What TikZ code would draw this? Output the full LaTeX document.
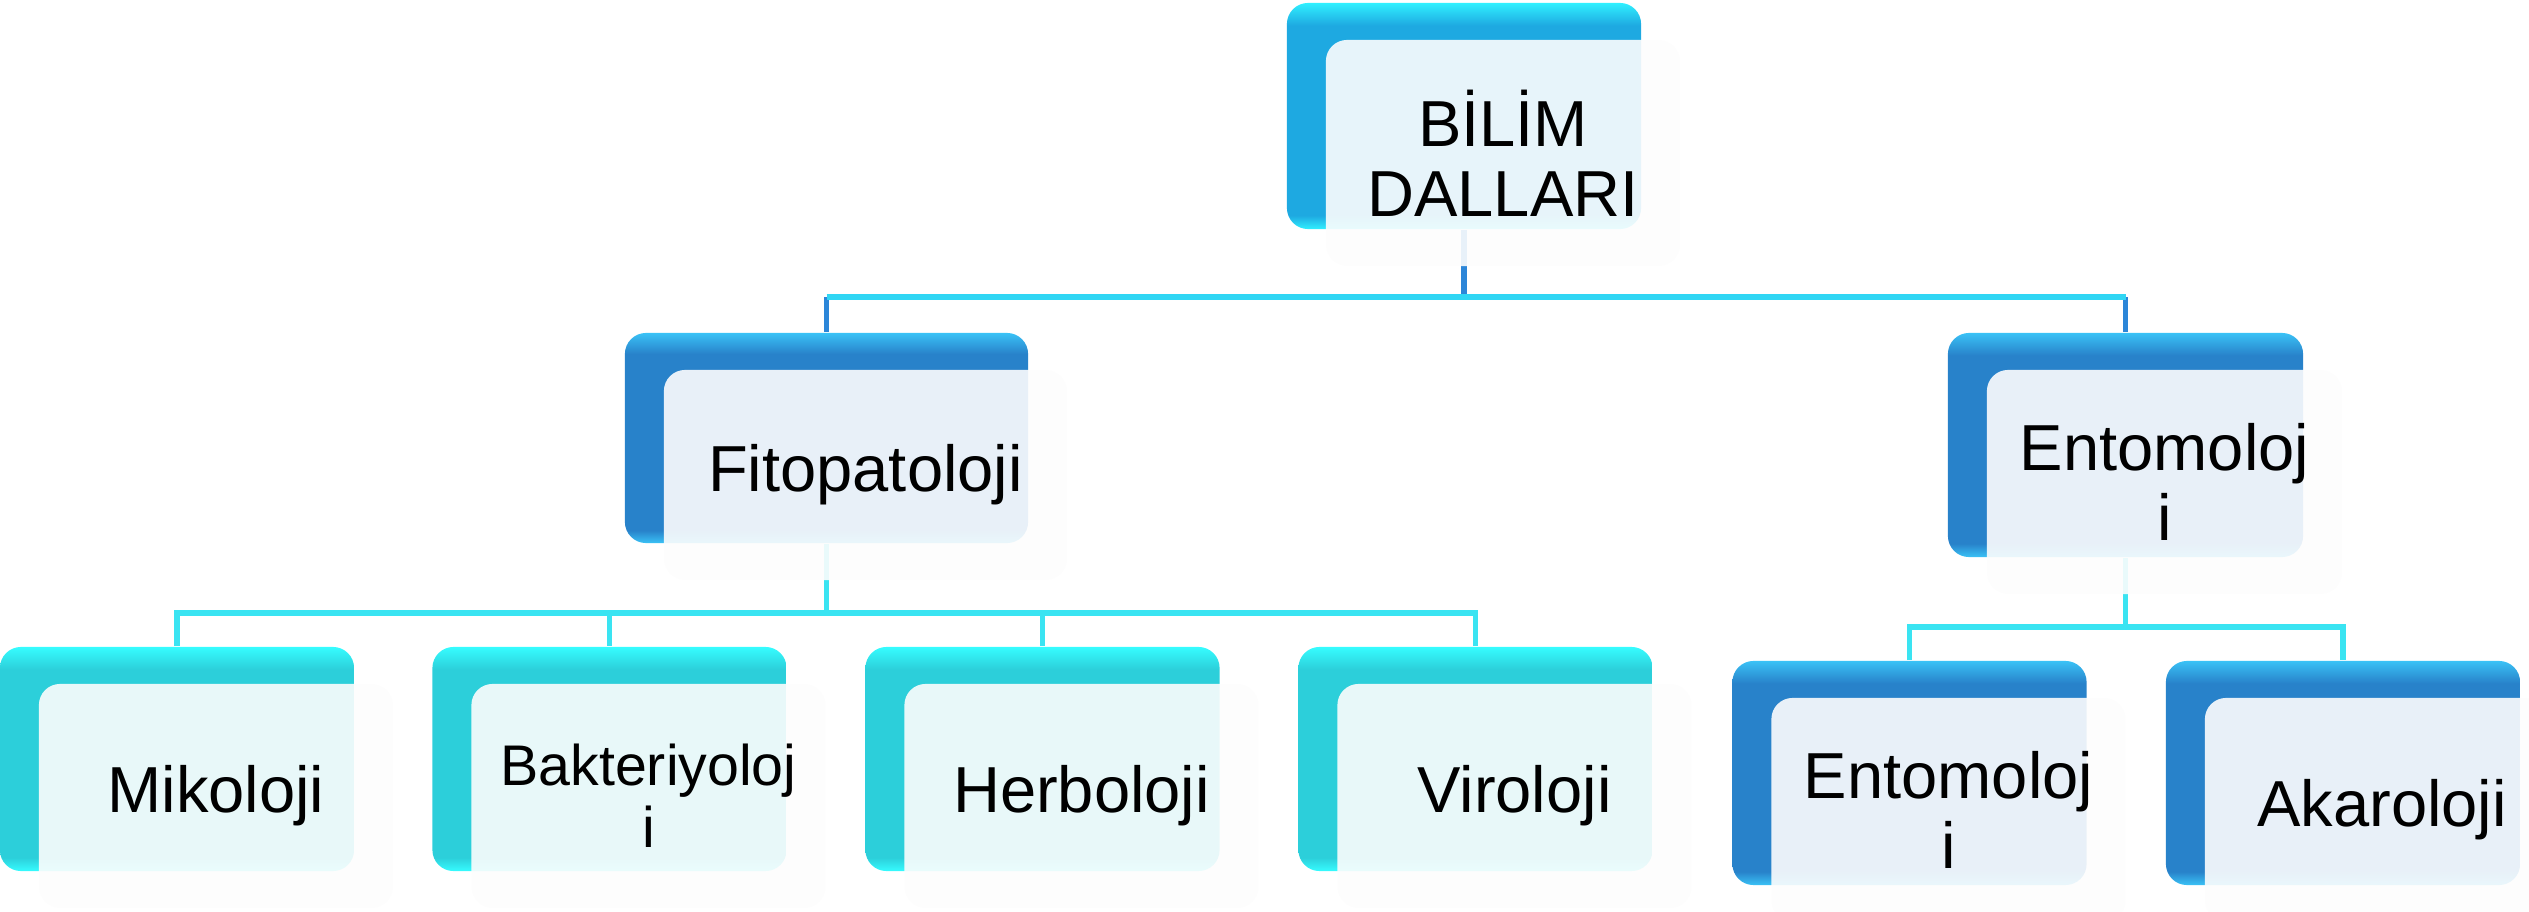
\documentclass[tikz,border=0pt]{standalone}
\usepackage{fontspec}
\setmainfont{Liberation Sans}
\definecolor{tbody}{HTML}{1EA9E1}
\definecolor{tedge}{HTML}{30F0FF}
\definecolor{bbody}{HTML}{2882CA}
\definecolor{bedge}{HTML}{3AC2F6}
\definecolor{cbody}{HTML}{2CCFDA}
\definecolor{cedge}{HTML}{36FCFF}
\definecolor{busc}{HTML}{30D6F4}
\definecolor{dropb}{HTML}{2C86D8}
\definecolor{cline}{HTML}{3AE4F2}
\definecolor{panelc}{HTML}{FDFDFD}
\pgfdeclareverticalshading{tsh}{100bp}{color(0bp)=(tedge); color(25bp)=(tedge); color(28bp)=(tbody); color(70bp)=(tbody); color(75bp)=(tedge); color(100bp)=(tedge)}
\pgfdeclareverticalshading{bsh}{100bp}{color(0bp)=(bedge); color(25bp)=(bedge); color(28bp)=(bbody); color(70bp)=(bbody); color(75bp)=(bedge); color(100bp)=(bedge)}
\pgfdeclareverticalshading{csh}{100bp}{color(0bp)=(cedge); color(25bp)=(cedge); color(28bp)=(cbody); color(70bp)=(cbody); color(75bp)=(cedge); color(100bp)=(cedge)}
\tikzset{
  outerbox/.style={rectangle, rounded corners=6pt, inner sep=0pt, draw=none},
  panel/.style={rectangle, rounded corners=6pt, fill=panelc, fill opacity=0.9, text opacity=1,
    inner sep=0pt, align=center, font=\fontsize{18.5}{19.8}\selectfont},
  smalltext/.style={font=\fontsize{16.3}{17.6}\selectfont},
  busline/.style={draw=busc, line width=1.5pt},
  dropline/.style={draw=dropb, line width=1.5pt},
  childline/.style={draw=cline, line width=1.5pt},
  bigbox/.style={minimum width=3.54cm, minimum height=2.24cm},
}
\begin{document}
\begin{tikzpicture}[x=0.01cm, y=-0.01cm]
\useasboundingbox (0,0) rectangle (2529,912);
% outer coloured boxes
\node[outerbox, shading=tsh, minimum width=3.54cm, minimum height=2.26cm] (top) at (1464,116) {};
\node[outerbox, shading=bsh, minimum width=4.03cm, minimum height=2.10cm] (fito) at (826.5,438) {};
\node[outerbox, shading=bsh, minimum width=3.55cm, minimum height=2.24cm] (ento) at (2125.5,445) {};
\node[outerbox, shading=csh, bigbox] (miko) at (177,759) {};
\node[outerbox, shading=csh, bigbox] (bakt) at (609.5,759) {};
\node[outerbox, shading=csh, bigbox] (herb) at (1042.5,759) {};
\node[outerbox, shading=csh, bigbox] (viro) at (1475.5,759) {};
\node[outerbox, shading=bsh, bigbox] (entob) at (1909.5,773) {};
\node[outerbox, shading=bsh, bigbox] (akar) at (2343,773) {};
% connectors
\coordinate (b1) at (0,297);
\coordinate (b2) at (0,613);
\coordinate (b3) at (0,627);
\draw[dropline] (top.south) -- (top.south |- b1);
\draw[dropline] (fito.north |- b1) -- (fito.north);
\draw[dropline] (ento.north |- b1) -- (ento.north);
\draw[busline] (fito.north |- b1) -- (ento.north |- b1);
\draw[childline] (fito.south) -- (fito.south |- b2);
\draw[childline] (miko.north) -- (miko.north |- b2) -- (viro.north |- b2) -- (viro.north);
\draw[childline] (bakt.north |- b2) -- (bakt.north);
\draw[childline] (herb.north |- b2) -- (herb.north);
\draw[childline] (ento.south) -- (ento.south |- b3);
\draw[childline] (entob.north) -- (entob.north |- b3) -- (akar.north |- b3) -- (akar.north);
% translucent panels with text
\node[panel, minimum width=3.54cm, minimum height=2.26cm] (topP) at (1503,153) {BİLİM\\DALLARI};
\node[panel, minimum width=4.03cm, minimum height=2.10cm] (fitoP) at (865.5,475) {Fitopatoloji};
\node[panel, minimum width=3.55cm, minimum height=2.24cm] (entoP) at (2164.5,482) {Entomoloj\\i};
\node[panel, bigbox] (mikoP) at (216,796) {Mikoloji};
\node[panel, bigbox, smalltext] (baktP) at (648.5,796) {Bakteriyoloj\\i};
\node[panel, bigbox] (herbP) at (1081.5,796) {Herboloji};
\node[panel, bigbox] (viroP) at (1514.5,796) {Viroloji};
\node[panel, bigbox] (entobP) at (1948.5,810) {Entomoloj\\i};
\node[panel, bigbox] (akarP) at (2382,810) {Akaroloji};
\end{tikzpicture}
\end{document}
